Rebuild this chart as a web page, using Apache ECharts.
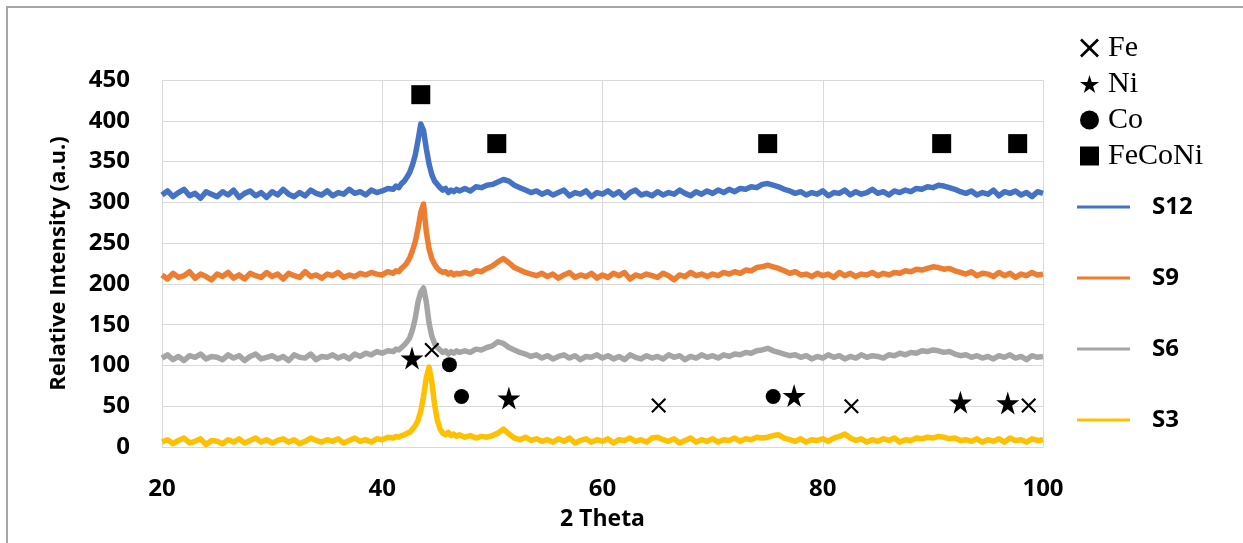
<!DOCTYPE html>
<html>
<head>
<meta charset="utf-8">
<script src="https://cdn.jsdelivr.net/npm/echarts@6/dist/echarts.min.js"></script>
<style>
  html, body { margin: 0; padding: 0; background: #fff; }
  #chart { width: 1243px; height: 543px; }
</style>
</head>
<body>
<div id="chart"></div>
<script>
// 2θ sampling positions (degrees); finer spacing across the main reflection
const twoTheta = [
  20,20.5,21,21.5,22,22.5,23,23.5,24,24.5,
  25,25.5,26,26.5,27,27.5,28,28.5,29,29.5,
  30,30.5,31,31.5,32,32.5,33,33.5,34,34.5,
  35,35.5,36,36.5,37,37.5,38,38.5,39,39.5,
  40,40.5,
  41,41.25,41.5,41.75,42,42.25,42.5,42.75,43,43.25,
  43.5,43.75,44,44.25,44.5,44.75,45,45.25,45.5,45.75,
  46,46.25,46.5,46.75,47,
  47.5,48,48.5,49,49.5,
  50,50.5,51,51.5,52,52.5,53,53.5,54,54.5,
  55,55.5,56,56.5,57,57.5,58,58.5,59,59.5,
  60,60.5,61,61.5,62,62.5,63,63.5,64,64.5,
  65,65.5,66,66.5,67,67.5,68,68.5,69,69.5,
  70,70.5,71,71.5,72,72.5,73,73.5,74,74.5,
  75,75.5,76,76.5,77,77.5,78,78.5,79,79.5,
  80,80.5,81,81.5,82,82.5,83,83.5,84,84.5,
  85,85.5,86,86.5,87,87.5,88,88.5,89,89.5,
  90,90.5,91,91.5,92,92.5,93,93.5,94,94.5,
  95,95.5,96,96.5,97,97.5,98,98.5,99,99.5,
  100
];

// Relative intensities (a.u.), patterns stacked with offsets
const s12 = [
  309,314,307,312,316,308,311,305,313,310,
  307,313,309,315,306,311,314,308,312,306,
  313,309,316,310,307,312,308,315,311,309,
  314,308,312,310,316,311,313,309,315,312,
  314,317,
  316,320,318,323,326,331,337,346,358,376,
  396,388,366,347,334,326,322,318,315,317,
  312,315,313,316,314,
  317,314,319,318,321,
  322,325,328,326,321,318,315,312,314,310,
  313,309,312,315,308,312,310,314,307,312,
  310,314,309,313,306,312,315,309,311,308,
  313,309,312,310,315,311,308,313,310,314,
  311,315,312,316,313,317,316,319,318,322,
  323,321,319,316,314,311,313,309,312,310,
  314,308,312,311,315,309,313,310,312,316,
  311,313,309,314,312,315,313,317,316,319,
  318,321,320,318,316,313,311,314,309,312,
  310,315,308,313,311,314,309,312,307,313,
  311
];
const s9 = [
  211,206,213,208,210,215,207,212,209,205,
  212,209,214,207,211,206,213,210,208,214,
  209,212,206,213,210,208,215,209,211,207,
  212,210,214,208,211,209,213,211,214,212,
  211,215,
  213,216,215,219,222,226,232,241,252,268,
  288,298,264,243,231,224,219,216,214,215,
  212,214,211,213,212,
  214,212,216,215,219,
  222,227,231,226,220,217,214,212,210,213,
  209,212,207,211,214,208,211,209,213,207,
  211,208,213,210,214,206,211,209,212,210,
  208,213,210,205,211,209,214,210,212,209,
  212,210,214,212,215,213,217,216,220,221,
  223,221,219,216,213,215,211,212,209,213,
  210,212,208,214,210,213,209,212,211,214,
  210,213,211,214,213,216,215,218,217,219,
  221,220,218,219,216,214,212,215,210,213,
  212,209,214,210,213,208,212,210,214,211,
  212
];
const s6 = [
  109,113,107,111,106,112,110,114,108,111,
  110,107,113,109,112,106,111,114,108,110,
  112,108,111,106,113,110,109,114,107,111,
  110,113,109,112,108,114,111,115,113,117,
  115,118,
  117,120,119,122,125,129,134,144,158,178,
  190,195,178,152,136,127,122,119,116,118,
  114,117,115,118,116,
  118,116,120,119,122,
  124,129,127,122,119,116,114,111,113,109,
  112,108,111,113,109,112,107,111,110,113,
  109,112,108,111,107,113,110,108,112,109,
  111,108,113,110,112,107,111,109,113,110,
  112,109,113,111,114,113,116,115,118,119,
  121,118,116,114,112,113,110,112,108,111,
  109,113,110,112,108,111,109,113,110,112,
  111,109,113,112,115,113,116,115,118,117,
  119,118,116,117,114,112,113,110,112,109,
  111,108,112,110,113,109,111,107,112,110,
  111
];
const s3 = [
  6,9,4,8,11,5,7,10,3,8,
  7,4,9,6,10,5,8,11,6,9,
  5,8,10,6,9,4,7,11,8,6,
  9,7,10,5,8,11,7,9,6,10,
  9,12,
  11,13,12,14,15,17,18,22,26,33,
  44,62,85,98,80,52,33,22,17,15,
  18,14,16,13,15,
  12,14,11,13,12,
  14,17,22,16,11,9,12,8,10,7,
  9,6,10,7,11,5,8,10,6,9,
  7,10,5,9,8,11,7,9,6,11,
  12,9,7,10,5,8,11,6,9,7,
  10,6,9,8,11,7,10,9,12,11,
  12,14,15,11,9,7,10,6,9,8,
  10,7,11,13,16,11,8,10,6,9,
  7,10,8,11,6,9,8,11,10,12,
  11,13,12,10,11,8,9,7,10,6,
  9,7,10,6,11,8,9,6,10,8,
  9
];

// Phase identification markers: [2θ, height]
const feMarks = [[44.5, 119], [65.1, 51], [82.6, 50], [98.7, 51]];
const niMarks = [[42.7, 109], [51.5, 60], [77.4, 63], [92.5, 55], [96.8, 54]];
const coMarks = [[46.1, 101], [47.2, 62], [75.5, 62]];
const feconiMarks = [[43.5, 432], [50.4, 372], [75.0, 372], [90.8, 372], [97.7, 372]];

const sampleNames = ['S12', 'S9', 'S6', 'S3'];
const sampleColors = ['#4472C4', '#ED7D31', '#A5A5A5', '#FFC000'];
const yTicks = { min: 0, max: 450, step: 50 };
const xTicks = { min: 20, max: 100, step: 20 };

const crossPath = 'path://M1,0 L5,4 L9,0 L10,1 L6,5 L10,9 L9,10 L5,6 L1,10 L0,9 L4,5 L0,1 Z';
const starPath = 'path://M50,0 L61,35 L98,35 L68,57 L79,91 L50,70 L21,91 L32,57 L2,35 L39,35 Z';

const axisFont = 'Open Sans';
const pair = arr => arr.map((v, i) => [twoTheta[i], v]);

const lineSeries = [s12, s9, s6, s3].map((vals, k) => ({
  name: sampleNames[k],
  type: 'line',
  data: pair(vals),
  showSymbol: false,
  symbol: 'none',
  lineStyle: { color: sampleColors[k], width: 5.5, join: 'round' },
  itemStyle: { color: sampleColors[k] },
  z: 2
}));

const markSeries = [
  { name: 'Fe', symbol: crossPath, symbolSize: 15, data: feMarks },
  { name: 'Ni', symbol: starPath, symbolSize: 23, data: niMarks },
  { name: 'Co', symbol: 'circle', symbolSize: 15, data: coMarks },
  { name: 'FeCoNi', symbol: 'rect', symbolSize: 19, data: feconiMarks }
].map(s => Object.assign({
  type: 'scatter',
  itemStyle: { color: '#000', opacity: 1 },
  z: 5
}, s));

const chart = echarts.init(document.getElementById('chart'), null, { renderer: 'canvas' });
chart.setOption({
  animation: false,
  backgroundColor: '#fff',
  graphic: [{
    type: 'rect',
    shape: { x: 7, y: 7, width: 1400, height: 800 },
    style: { fill: 'none', stroke: '#a6a6a6', lineWidth: 2 },
    silent: true
  }],
  grid: { left: 162, right: 200, top: 80, bottom: 96 },
  xAxis: {
    type: 'value',
    min: xTicks.min, max: xTicks.max, interval: xTicks.step,
    name: '2 Theta',
    nameLocation: 'middle',
    nameGap: 61,
    nameTextStyle: { fontFamily: axisFont, fontWeight: 'bold', fontSize: 23, color: '#000' },
    axisLine: { lineStyle: { color: '#d9d9d9', width: 1 } },
    axisTick: { show: false },
    axisLabel: { margin: 30, fontFamily: axisFont, fontWeight: 'bold', fontSize: 24, color: '#000' },
    splitLine: { show: true, lineStyle: { color: '#d9d9d9', width: 1 } }
  },
  yAxis: {
    type: 'value',
    min: yTicks.min, max: yTicks.max, interval: yTicks.step,
    name: 'Relative Intensity (a.u.)',
    nameLocation: 'middle',
    nameGap: 92,
    nameRotate: 90,
    nameTextStyle: { fontFamily: axisFont, fontWeight: 'bold', fontSize: 22, color: '#000' },
    axisLine: { show: false },
    axisTick: { show: false },
    axisLabel: { margin: 32, fontFamily: axisFont, fontWeight: 'bold', fontSize: 24, color: '#000' },
    splitLine: { show: true, lineStyle: { color: '#d9d9d9', width: 1 } }
  },
  legend: [{
    data: ['Fe', 'Ni', 'Co', 'FeCoNi'],
    orient: 'vertical',
    left: 1075,
    top: 28,
    itemWidth: 19,
    itemHeight: 19,
    itemGap: 6,
    textStyle: { fontFamily: 'Liberation Serif', fontSize: 30, lineHeight: 30, color: '#000', padding: [0, 0, 0, 4] }
  }, {
    data: sampleNames.map(n => ({ name: n, icon: 'rect' })),
    orient: 'vertical',
    left: 1072,
    top: 190,
    itemWidth: 53,
    itemHeight: 3,
    itemGap: 47,
    textStyle: { fontFamily: axisFont, fontWeight: 'bold', fontSize: 24, lineHeight: 24, color: '#000', padding: [0, 0, 0, 17] }
  }],
  series: lineSeries.concat(markSeries)
});
</script>
</body>
</html>
